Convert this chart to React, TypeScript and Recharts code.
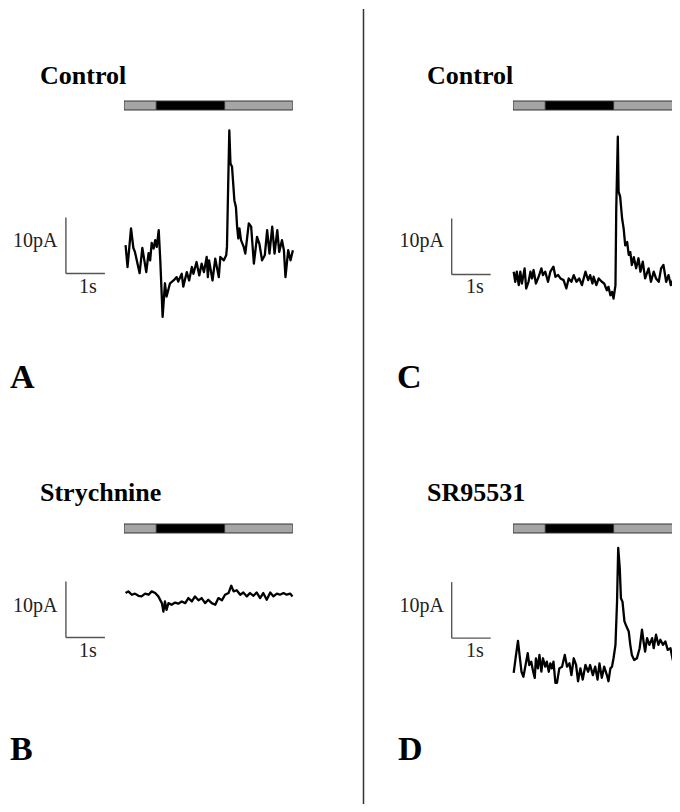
import { LineChart, Line, XAxis, YAxis, ReferenceLine, BarChart, Bar } from 'recharts';

const FONT = '"Liberation Serif", "Times New Roman", serif';
const PX_PER_S = 39;
const PX_PER_PA = 5.6;

// Stimulus protocol (s): pre, light-on, post
const stimEpochs = [{ name: 'stim', pre: 0.83, light: 1.75, post: 1.75 }];
const STIM_TOTAL = 4.33;

// A: control
const timeA = [0.03, 0.08, 0.17, 0.23, 0.27, 0.39, 0.46, 0.56, 0.62, 0.66, 0.70, 0.75, 0.79, 0.83, 0.88, 0.92, 0.98, 1.04, 1.08, 1.17, 1.26, 1.34, 1.38, 1.47, 1.51, 1.60, 1.66, 1.73, 1.77, 1.85, 1.92, 1.98, 2.04, 2.11, 2.14, 2.17, 2.26, 2.33, 2.42, 2.46, 2.55, 2.61, 2.63, 2.66, 2.69, 2.72, 2.76, 2.82, 2.86, 2.89, 2.92, 2.95, 2.99, 3.06, 3.10, 3.19, 3.25, 3.32, 3.40, 3.46, 3.53, 3.60, 3.66, 3.72, 3.79, 3.85, 3.92, 3.97, 4.04, 4.09, 4.13, 4.20, 4.26, 4.32];
const currentA = [0.0, -3.9, 3.0, -0.5, -1.2, -5.0, -0.5, -4.8, -1.4, -2.7, 0.4, -0.6, 0.9, -0.3, 2.7, -2.7, -12.8, -6.8, -9.2, -6.8, -6.3, -5.7, -6.5, -5.1, -7.4, -4.8, -6.3, -3.9, -5.1, -3.0, -5.4, -3.3, -4.8, -2.1, -5.7, -2.7, -6.3, -2.4, -5.7, -2.1, -2.7, -1.8, -0.3, 10.4, 20.5, 14.6, 14.0, 8.0, 6.8, 3.3, 1.2, 3.0, 0.9, -0.3, -1.5, 3.9, 3.3, -3.3, 1.5, 0.3, -2.7, -1.8, 2.7, -1.5, 3.3, -1.5, 2.7, -1.2, 0.9, -0.9, -5.7, -0.9, -2.7, -0.9];

// B: strychnine
const timeB = [0.03, 0.10, 0.19, 0.27, 0.36, 0.44, 0.53, 0.62, 0.70, 0.79, 0.87, 0.96, 1.00, 1.04, 1.08, 1.13, 1.21, 1.30, 1.38, 1.47, 1.56, 1.64, 1.73, 1.81, 1.90, 1.98, 2.07, 2.15, 2.24, 2.33, 2.41, 2.50, 2.58, 2.67, 2.74, 2.80, 2.88, 2.97, 3.05, 3.14, 3.22, 3.31, 3.39, 3.48, 3.56, 3.65, 3.74, 3.82, 3.91, 3.99, 4.08, 4.16, 4.25, 4.31];
const currentB = [0.1, 0.4, -0.2, 0.0, -0.4, -0.5, 0.0, -0.2, 0.4, 0.1, -0.5, -1.7, -3.2, -1.4, -2.9, -1.7, -2.0, -1.6, -1.8, -1.4, -1.7, -0.8, -1.4, -0.5, -1.2, -0.8, -1.7, -1.1, -1.7, -2.0, -0.8, -1.2, -0.2, 0.1, 1.4, 0.4, 0.6, -0.2, 0.2, -0.5, 0.1, -0.4, 0.2, -0.8, 0.1, -1.1, 0.2, -0.5, 0.0, -0.2, 0.1, -0.2, 0.0, -0.5];

// C: control
const timeC = [0.01, 0.05, 0.09, 0.14, 0.18, 0.22, 0.29, 0.33, 0.39, 0.44, 0.48, 0.52, 0.58, 0.65, 0.72, 0.76, 0.82, 0.89, 0.95, 1.03, 1.08, 1.15, 1.21, 1.29, 1.36, 1.42, 1.49, 1.55, 1.62, 1.69, 1.76, 1.85, 1.92, 1.97, 2.03, 2.06, 2.13, 2.19, 2.27, 2.33, 2.40, 2.44, 2.49, 2.53, 2.57, 2.62, 2.64, 2.68, 2.70, 2.74, 2.79, 2.83, 2.87, 2.92, 2.96, 3.00, 3.04, 3.09, 3.15, 3.21, 3.26, 3.32, 3.38, 3.47, 3.53, 3.60, 3.66, 3.73, 3.79, 3.85, 3.92, 3.98, 4.04, 4.11, 4.18, 4.24, 4.28, 4.31];
const currentC = [0.8, -1.0, 0.8, -1.6, 0.8, -1.3, 1.4, -2.2, -1.0, 0.8, -0.4, 1.1, -1.3, -0.1, 1.4, 0.2, 0.8, -1.0, 0.8, 1.7, -0.1, 0.2, -0.4, -0.7, -2.2, -0.4, -1.0, 0.2, -1.0, -0.4, -1.6, 0.8, -0.7, 0.2, -1.3, -0.1, -1.6, -0.4, -1.0, -1.3, -2.5, -1.9, -3.4, -2.8, -4.0, -1.6, 12.1, 24.9, 15.1, 14.2, 10.3, 8.5, 5.5, 6.1, 3.8, 4.3, 2.0, 3.4, 1.4, 3.2, 0.8, 2.6, -0.4, 1.4, -1.0, 0.8, -0.4, -1.0, 1.4, 2.0, -1.0, 0.2, -1.6, -0.4, -3.4, -1.0, -1.6, -1.0];

// D: SR95531
const timeD = [0.01, 0.07, 0.12, 0.16, 0.21, 0.26, 0.33, 0.37, 0.41, 0.46, 0.51, 0.55, 0.58, 0.63, 0.67, 0.72, 0.76, 0.82, 0.86, 0.91, 0.95, 0.99, 1.03, 1.08, 1.12, 1.18, 1.25, 1.32, 1.38, 1.44, 1.49, 1.55, 1.61, 1.66, 1.72, 1.78, 1.85, 1.92, 1.97, 2.04, 2.10, 2.16, 2.21, 2.27, 2.33, 2.40, 2.44, 2.49, 2.53, 2.57, 2.62, 2.66, 2.69, 2.73, 2.76, 2.80, 2.85, 2.90, 2.96, 3.00, 3.04, 3.10, 3.17, 3.24, 3.30, 3.34, 3.38, 3.43, 3.49, 3.56, 3.60, 3.66, 3.72, 3.77, 3.84, 3.90, 3.96, 4.03, 4.09, 4.15, 4.21, 4.26, 4.31];
const currentD = [-0.9, 2.3, 4.8, 2.3, -0.7, -1.6, 1.1, 2.6, 0.5, 1.1, -0.7, -1.8, 1.7, -0.1, 2.3, -0.7, 1.7, 0.2, 1.1, -0.7, 0.8, -0.1, 1.1, -2.7, -2.7, -0.1, 0.2, 2.3, 0.2, 0.8, -1.3, 1.7, 0.5, -2.4, -0.1, -2.1, 0.5, -0.7, 0.5, -1.3, 0.2, -2.1, 0.8, -1.8, 0.2, -1.3, -2.4, -0.1, 0.2, 1.7, 4.1, 11.8, 21.4, 17.8, 12.4, 11.8, 8.3, 7.4, 6.5, 4.1, 2.3, 1.4, 1.7, 3.5, 6.8, 4.7, 2.9, 5.3, 4.1, 5.3, 3.5, 5.9, 4.1, 5.0, 4.1, 4.7, 3.2, 3.5, 1.4, 4.7, 0.8, 3.2, 2.3];

const ZERO = { top: 0, right: 0, bottom: 0, left: 0 };

interface TraceProps {
  time: number[];
  current: number[];
  x0: number; // pixel position of t = 0
  y0: number; // pixel position of 0 pA
  tRange: [number, number];
  iRange: [number, number];
  scale: { t: number; i: number }; // corner of the 1 s / 10 pA scale bar
}

function Trace({ time, current, x0, y0, tRange, iRange, scale }: TraceProps) {
  const data = time.map((t, k) => ({ t, i: current[k] }));
  const width = (tRange[1] - tRange[0]) * PX_PER_S;
  const height = (iRange[1] - iRange[0]) * PX_PER_PA;
  const left = x0 + tRange[0] * PX_PER_S;
  const top = y0 - iRange[1] * PX_PER_PA;
  return (
    <div style={{ position: 'absolute', left, top }}>
      <LineChart width={width} height={height} data={data} margin={ZERO}>
        <XAxis dataKey="t" type="number" domain={tRange} allowDataOverflow hide />
        <YAxis type="number" domain={iRange} allowDataOverflow hide />
        <ReferenceLine
          segment={[{ x: scale.t, y: scale.i + 10 }, { x: scale.t, y: scale.i }]}
          stroke="#555"
          strokeWidth={1.4}
        />
        <ReferenceLine
          segment={[{ x: scale.t, y: scale.i }, { x: scale.t + 1, y: scale.i }]}
          stroke="#555"
          strokeWidth={1.4}
        />
        <Line
          dataKey="i"
          type="linear"
          stroke="#000"
          strokeWidth={2.3}
          strokeLinejoin="round"
          dot={false}
          isAnimationActive={false}
        />
      </LineChart>
    </div>
  );
}

function StimBar({ left, top }: { left: number; top: number }) {
  return (
    <div style={{ position: 'absolute', left: left - 1, top: top - 1 }}>
      <BarChart
        layout="vertical"
        width={STIM_TOTAL * PX_PER_S + 2}
        height={11}
        data={stimEpochs}
        margin={{ top: 1, right: 1, bottom: 1, left: 1 }}
        barCategoryGap={0}
      >
        <XAxis type="number" domain={[0, STIM_TOTAL]} allowDataOverflow hide />
        <YAxis type="category" dataKey="name" hide />
        <Bar dataKey="pre" stackId="s" fill="#a5a5a5" stroke="#333" strokeWidth={1} isAnimationActive={false} />
        <Bar dataKey="light" stackId="s" fill="#000" stroke="#333" strokeWidth={1} isAnimationActive={false} />
        <Bar dataKey="post" stackId="s" fill="#a5a5a5" stroke="#333" strokeWidth={1} isAnimationActive={false} />
      </BarChart>
    </div>
  );
}

const title = { fontFamily: FONT, fontWeight: 700, fontSize: 26, fill: '#000' };
const unit = { fontFamily: FONT, fontSize: 20, fill: '#222' };
const letter = { fontFamily: FONT, fontWeight: 700, fontSize: 34, fill: '#000' };

export default function App() {
  return (
    <div
      style={{
        position: 'relative',
        width: 680,
        height: 812,
        margin: -8,
        overflow: 'hidden',
        background: '#fff',
      }}
    >
      <svg width={680} height={812} style={{ position: 'absolute', left: 0, top: 0 }}>
        <line x1={363.5} y1={9} x2={363.5} y2={812} stroke="#333" strokeWidth={1.5} />

        <text x={40} y={84.3} style={title}>Control</text>
        <text x={427} y={84.3} style={title}>Control</text>
        <text x={40} y={500.5} style={title}>Strychnine</text>
        <text x={427} y={501} style={title}>SR95531</text>

        <text x={57.5} y={246.7} textAnchor="end" style={unit}>10pA</text>
        <text x={444} y={246.7} textAnchor="end" style={unit}>10pA</text>
        <text x={57.5} y={611.7} textAnchor="end" style={unit}>10pA</text>
        <text x={444} y={611.7} textAnchor="end" style={unit}>10pA</text>

        <text x={79} y={293.3} style={unit}>1s</text>
        <text x={466} y={293.3} style={unit}>1s</text>
        <text x={79} y={657} style={unit}>1s</text>
        <text x={466} y={657.3} style={unit}>1s</text>

        <text x={10} y={388} style={letter}>A</text>
        <text x={10} y={760} style={letter}>B</text>
        <text x={397} y={388} style={letter}>C</text>
        <text x={398} y={760} style={letter}>D</text>
      </svg>

      <StimBar left={124} top={101} />
      <StimBar left={124} top={523.5} />
      <StimBar left={513} top={101} />
      <StimBar left={513} top={524} />

      <Trace time={timeA} current={currentA} x0={124} y0={245} tRange={[-1.6, 4.4]} iRange={[-14, 22]} scale={{ t: -1.5, i: -5.05 }} />
      <Trace time={timeB} current={currentB} x0={124} y0={594} tRange={[-1.6, 4.4]} iRange={[-10, 6]} scale={{ t: -1.5, i: -7.85 }} />
      <Trace time={timeC} current={currentC} x0={513} y0={276} tRange={[-1.7, 4.4]} iRange={[-6, 27]} scale={{ t: -1.58, i: 0.3 }} />
      <Trace time={timeD} current={currentD} x0={513} y0={668} tRange={[-1.7, 4.4]} iRange={[-5, 23]} scale={{ t: -1.58, i: 5.3 }} />
    </div>
  );
}
